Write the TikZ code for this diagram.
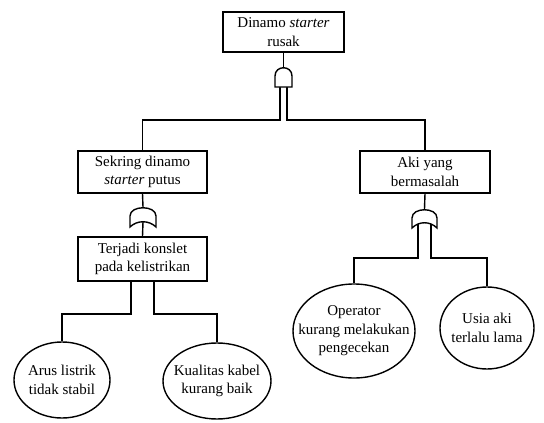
\documentclass[tikz,border=0pt]{standalone}
\usepackage{fontspec}
\setmainfont{Liberation Serif}
\usetikzlibrary{shapes.geometric}
\begin{document}
\begin{tikzpicture}[x=1pt,y=-1pt,line width=1.4pt,
  evbox/.style={draw,rectangle,align=center,inner sep=0pt,font=\fontsize{15}{18.5}\selectfont},
  basic/.style={draw,ellipse,align=center,inner sep=-20pt,font=\fontsize{15}{18.5}\selectfont},
  gate/.style={draw,fill=white,line width=1.4pt}]
\useasboundingbox (0,0) rectangle (544,423);
% events
\node[evbox,minimum width=121pt,minimum height=40pt] (top) at (283.5,32) {Dinamo \textit{starter}\\rusak};
\node[evbox,minimum width=129pt,minimum height=42pt] (sek) at (142.5,172) {Sekring dinamo\\\textit{starter} putus};
\node[evbox,minimum width=130pt,minimum height=42pt] (aki) at (425,172) {Aki yang\\bermasalah};
\node[evbox,minimum width=129pt,minimum height=44pt] (terj) at (142.5,259) {Terjadi konslet\\pada kelistrikan};
\node[basic,minimum width=96pt,minimum height=76pt] (e1) at (62,380) {Arus listrik\\tidak stabil};
\node[basic,minimum width=108pt,minimum height=76pt] (e2) at (217,381) {Kualitas kabel\\kurang baik};
\node[basic,minimum width=122pt,minimum height=94pt] (e3) at (354,331) {Operator\\kurang melakukan\\pengecekan};
\node[basic,minimum width=94pt,minimum height=82pt] (e4) at (487,328) {Usia aki\\terlalu lama};
% gate anchor coordinates
\coordinate (g1t) at (283.5,67);
\coordinate (g1l) at (280,87);
\coordinate (g1r) at (287,87);
\coordinate (g2t) at (143,207);
\coordinate (g2b) at (143,222);
\coordinate (g3t) at (424.5,209);
\coordinate (g3l) at (418,224);
\coordinate (g3r) at (431,224);
\coordinate (t1) at (131,281);
\coordinate (t2) at (154,281);
% connectors
\draw (top.south) -- (g1t);
\draw (g1l) -- ++(0,33) -| (sek.north);
\draw (g1r) -- ++(0,33) -| (aki.north);
\draw (sek.south) -- (g2t);
\draw (g2b) -- (terj.north);
\draw (aki.south) -- (g3t);
\draw (g3l) -- (418,258) -| (e3.north);
\draw (g3r) -- (431,258) -| (e4.north);
\draw (t1) -- (131,314) -| (e1.north);
\draw (t2) -- (154,314) -| (e2.north);
% gates
\draw[gate] (275,87) -- (275,76) .. controls (275,65) and (292,65) .. (292,76) -- (292,87) -- cycle;
\draw[gate] (130,227) -- (130,216) .. controls (130,205) and (156,205) .. (156,216) -- (156,227) .. controls (149,220) and (137,220) .. (130,227) -- cycle;
\draw[gate] (412,228) -- (412,218) .. controls (412,207) and (437,207) .. (437,218) -- (437,228) .. controls (430,221) and (419,221) .. (412,228) -- cycle;
\end{tikzpicture}
\end{document}
